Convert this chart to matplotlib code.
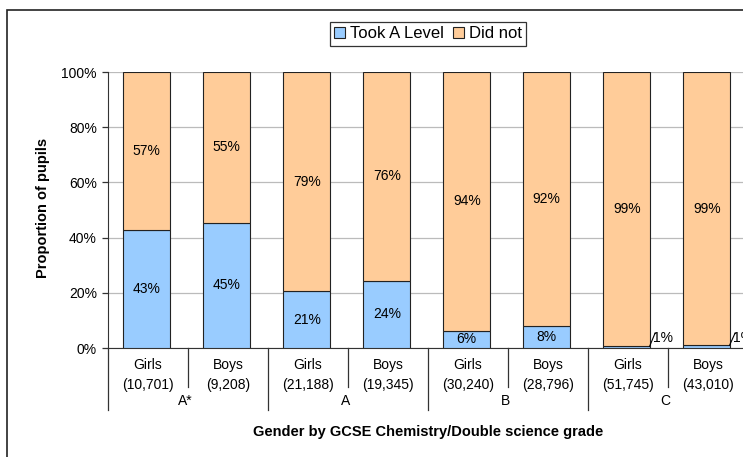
import matplotlib
matplotlib.use("Agg")
import matplotlib.pyplot as plt
from matplotlib.patches import Rectangle
from matplotlib.transforms import blended_transform_factory

# data (percent of pupils)
genders = ["Girls", "Boys", "Girls", "Boys", "Girls", "Boys", "Girls", "Boys"]
counts = ["(10,701)", "(9,208)", "(21,188)", "(19,345)",
          "(30,240)", "(28,796)", "(51,745)", "(43,010)"]
grades = ["A*", "A", "B", "C"]
took = [42.6, 45.4, 20.6, 24.3, 6.2, 8.1, 0.6, 1.0]
did_not = [57.4, 54.6, 79.4, 75.7, 93.8, 91.9, 99.4, 99.0]

BLUE = "#99CCFF"
ORANGE = "#FFCC99"
W, H = 743, 457

plt.rcParams["font.family"] = ["Liberation Sans", "DejaVu Sans"]
fig = plt.figure(figsize=(W / 100, H / 100), dpi=100)
ax = fig.add_axes([108 / W, 1 - 348 / H, 640 / W, 276 / H])

# outer chart frame (right/bottom edges fall outside the picture)
fig.patches.append(Rectangle((7 / W, -0.1), 1.2, 1 - 10 / H + 0.1,
                             transform=fig.transFigure, fill=False,
                             ec="#222222", lw=1.2, zorder=0))

x = [i + 0.485 for i in range(len(took))]
took_f = [v / 100 for v in took]
did_f = [v / 100 for v in did_not]
bw = 0.59
b1 = ax.bar(x, took_f, bw, color=BLUE, edgecolor="#222222", lw=0.8,
            label="Took A Level", zorder=3)
b2 = ax.bar(x, did_f, bw, bottom=took_f, color=ORANGE, edgecolor="#222222",
            lw=0.8, label="Did not", zorder=3)

for xi, t, d in zip(x, took, did_not):
    ax.text(xi, (t + d / 2) / 100, f"{round(d)}%", ha="center", va="center",
            fontsize=10, zorder=4)
    if t >= 3:
        ax.text(xi, t / 200, f"{round(t)}%", ha="center", va="center",
                fontsize=10, zorder=4)
    else:
        # small share: label sits beside the bar with a short leader line
        edge = xi + bw / 2
        ax.plot([edge - 0.01, edge + 0.06], [t / 100, 0.055], color="black",
                lw=0.8, zorder=5, clip_on=False)
        ax.text(edge + 0.035, 0.037, f"{round(t)}%", ha="left", va="center",
                fontsize=10, zorder=5, clip_on=False)

ax.set_xlim(0, 8)
ax.set_ylim(0, 1)
ax.set_yticks([0, 0.2, 0.4, 0.6, 0.8, 1.0])
ax.set_yticklabels(["0%", "20%", "40%", "60%", "80%", "100%"], fontsize=10)
ax.yaxis.grid(True, color="#BBBBBB", lw=0.9, zorder=0)
ax.set_axisbelow(True)
ax.tick_params(axis="y", length=4, width=0.9, color="#333333", pad=4)
ax.set_xticks([])
for s in ["top", "right"]:
    ax.spines[s].set_visible(False)
ax.spines["left"].set_color("#333333")
ax.spines["bottom"].set_color("#333333")

# category labels and divider lines under the axis
tr = blended_transform_factory(ax.transData, ax.transAxes)
for i in range(len(took) + 1):
    long_tick = i % 2 == 0
    ax.plot([i, i], [0, -(62 if long_tick else 39) / 276], transform=tr,
            color="#333333", lw=0.9, clip_on=False)
for i, (g, c) in enumerate(zip(genders, counts)):
    ax.text(i + 0.5, -17 / 276, g, transform=tr, ha="center", va="center", fontsize=10)
    ax.text(i + 0.5, -37 / 276, c, transform=tr, ha="center", va="center", fontsize=10)
for k, gr in enumerate(grades):
    ax.text(2 * k + 1 - 0.03, -53 / 276, gr, transform=tr, ha="center",
            va="center", fontsize=10)

ax.text(0.5, -84 / 276, "Gender by GCSE Chemistry/Double science grade",
        transform=ax.transAxes, ha="center", va="center", fontsize=10.5,
        fontweight="bold")
fig.text(43 / W, 1 - 208 / H, "Proportion of pupils", rotation=90,
         ha="center", va="center", fontsize=10.5, fontweight="bold")

leg = fig.legend(handles=[b1, b2], loc="center", ncol=2,
                 bbox_to_anchor=(428 / W, 1 - 34 / H), fontsize=12,
                 frameon=True, fancybox=False, edgecolor="black",
                 handlelength=0.65, handleheight=0.65, handletextpad=0.3,
                 columnspacing=0.6, borderpad=0.25, borderaxespad=0)
leg.get_frame().set_linewidth(0.9)

fig.savefig("out.png", dpi=100)
